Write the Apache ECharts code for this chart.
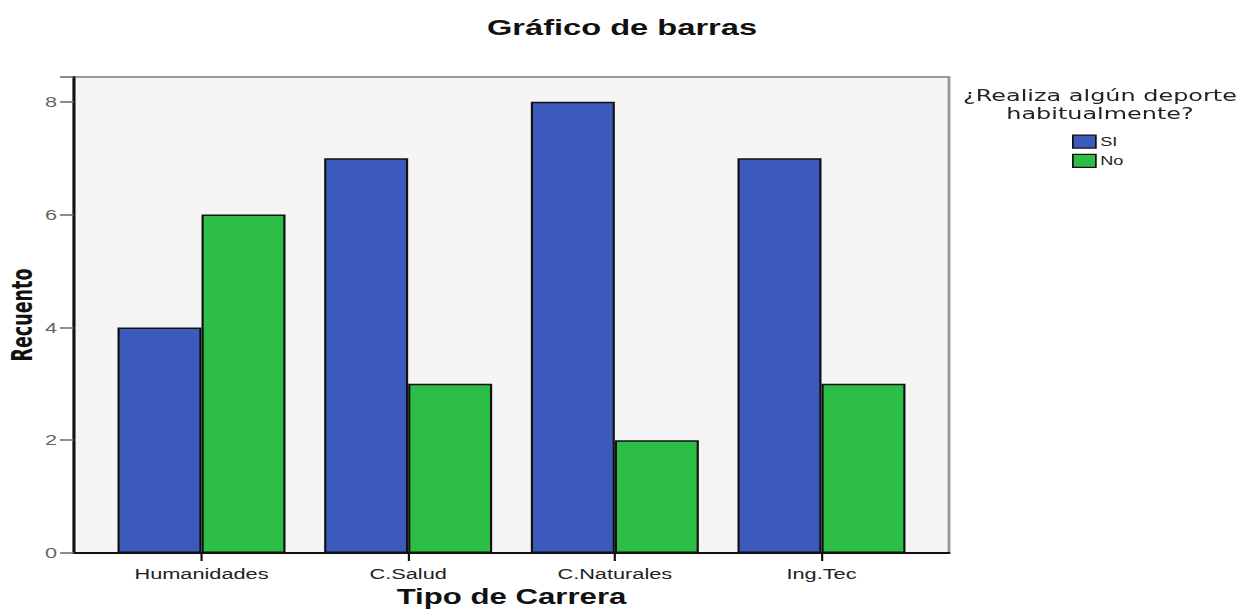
<!DOCTYPE html>
<html>
<head>
<meta charset="utf-8">
<title>Gráfico de barras</title>
<script src="https://cdn.jsdelivr.net/npm/echarts@6/dist/echarts.min.js"></script>
<style>
  html, body { margin: 0; padding: 0; background: #ffffff; overflow: hidden; }
  /* the chart is laid out on a narrower canvas and widened horizontally,
     giving the broad, stretched lettering of the exported figure */
  #chart { height: 610px; transform-origin: 0 0; }
</style>
</head>
<body>
<div id="chart"></div>
<script>
// Count of students per degree type, split by whether they play a sport
const categories = ['Humanidades', 'C.Salud', 'C.Naturales', 'Ing.Tec'];
const seriesSi = [4, 7, 8, 7];
const seriesNo = [6, 3, 2, 3];
const seriesNames = ['SI', 'No'];
const yTicks = [0, 2, 4, 6, 8];

const STRETCH = 1.45;
const PAGE_W = 1251;
const W = PAGE_W / STRETCH;          // layout width before widening
const px = v => v / STRETCH;         // page x-distance -> layout x-distance
const PAD = 5;                       // default component padding of title / legend

const el = document.getElementById('chart');
el.style.width = W + 'px';
el.style.transform = 'scaleX(' + STRETCH + ')';

const catIndex = categories.map((c, i) => i);
const toPairs = vals => vals.map((v, i) => [i, v]);

const chart = echarts.init(el, null, { renderer: 'svg', width: W, height: 610 });

const SANS = 'Liberation Sans, Arial, Helvetica, sans-serif';

const option = {
  backgroundColor: '#ffffff',
  animation: false,
  title: [
    {
      text: 'Gráfico de barras',
      left: px(622) - PAD, top: 11, textAlign: 'center',
      textStyle: { fontFamily: SANS, fontSize: 22.5, fontWeight: 'bold', color: '#111' }
    },
    {
      text: '¿Realiza algún deporte\nhabitualmente?',
      left: px(1100) - PAD, top: 82, textAlign: 'center',
      textStyle: { fontFamily: 'DejaVu Sans, Verdana, sans-serif', fontSize: 16.5, fontWeight: 'normal', color: '#222', lineHeight: 17.5 }
    }
  ],
  legend: {
    data: seriesNames,
    orient: 'vertical',
    left: px(1072) - PAD, top: 129.5,
    itemWidth: px(23), itemHeight: 13, itemGap: 5,
    icon: 'rect',
    itemStyle: { borderColor: '#111', borderWidth: 1.2 },
    textStyle: { fontFamily: SANS, fontSize: 12.5, color: '#222', padding: [0, 0, 0, -2] }
  },
  grid: {
    left: px(74), right: W - px(949), top: 77, bottom: 57,
    outerBoundsMode: 'none',
    containLabel: false,
    show: true,
    backgroundColor: '#f5f5f5',
    borderColor: '#9a9a9a',
    borderWidth: 2
  },
  xAxis: {
    type: 'value',
    min: -0.617, max: 3.617,
    name: 'Tipo de Carrera',
    nameLocation: 'middle',
    nameGap: 33,
    nameMoveOverlap: false,
    nameTextStyle: { fontFamily: SANS, fontSize: 21.5, fontWeight: 'bold', color: '#111' },
    axisLine: { show: true, onZero: false, lineStyle: { color: '#111', width: 2 } },
    axisTick: { show: true, customValues: catIndex, length: 8, lineStyle: { color: '#111', width: 1.5 } },
    axisLabel: {
      customValues: catIndex,
      formatter: v => categories[Math.round(v)],
      margin: 13,
      fontFamily: SANS, fontSize: 15, color: '#222'
    },
    splitLine: { show: false }
  },
  yAxis: {
    type: 'value',
    min: 0, max: 8.44, interval: 2,
    name: 'Recuento',
    nameLocation: 'middle',
    nameRotate: 90,
    nameGap: 26,
    nameMoveOverlap: false,
    nameTextStyle: { fontFamily: 'Liberation Sans Narrow, DejaVu Sans Condensed, Arial Narrow, sans-serif', fontSize: 19.5, fontWeight: 'bold', color: '#111' },
    axisLine: { show: true, onZero: false, lineStyle: { color: '#111', width: 2 } },
    axisTick: { show: true, length: px(14), lineStyle: { color: '#666', width: 1.5 } },
    axisLabel: {
      customValues: yTicks,
      margin: px(17),
      fontFamily: SANS, fontSize: 15, color: '#666'
    },
    splitLine: { show: false }
  },
  series: [
    {
      name: seriesNames[0],
      type: 'bar',
      data: toPairs(seriesSi),
      barWidth: px(84),
      barGap: '0%',
      itemStyle: { color: '#3c5abb', borderColor: '#111', borderWidth: 1.5 }
    },
    {
      name: seriesNames[1],
      type: 'bar',
      data: toPairs(seriesNo),
      barWidth: px(84),
      barGap: '0%',
      itemStyle: { color: '#2dbe48', borderColor: '#111', borderWidth: 1.5 }
    }
  ]
};

chart.setOption(option);
</script>
</body>
</html>
